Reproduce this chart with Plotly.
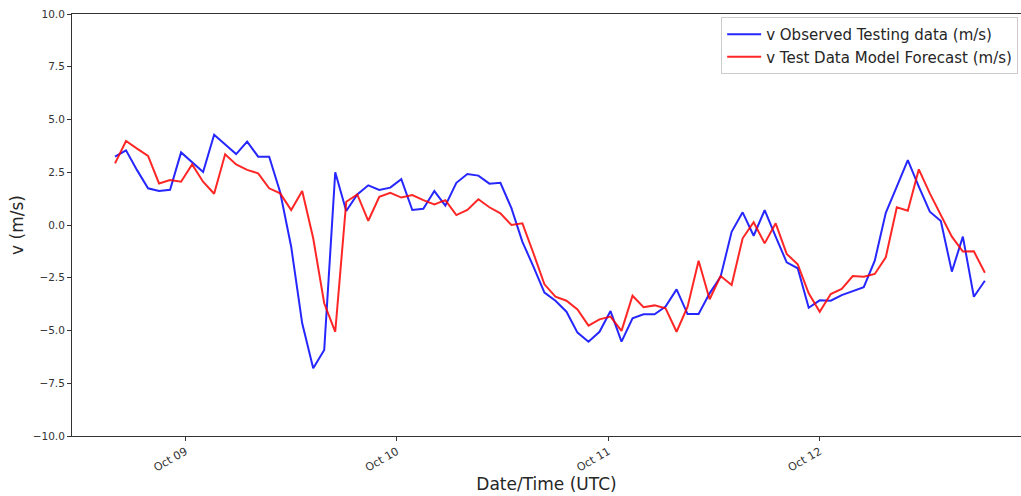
import pandas as pd
import plotly.graph_objects as go

# Timestamps: 80 samples, 75-minute spacing
times = pd.date_range("2023-10-08 16:00", periods=80, freq="75min")

observed = [
    3.24, 3.54, 2.60, 1.74, 1.61, 1.67, 3.44, 2.97, 2.51, 4.28,
    3.82, 3.36, 3.95, 3.24, 3.24, 1.55, -1.03, -4.66, -6.79, -5.92,
    2.50, 0.66, 1.45, 1.88, 1.66, 1.77, 2.17, 0.71, 0.77, 1.61,
    0.92, 2.00, 2.42, 2.34, 1.96, 2.00, 0.80, -0.80, -1.97, -3.20,
    -3.59, -4.11, -5.10, -5.53, -5.06, -4.08, -5.53, -4.42, -4.23, -4.23,
    -3.87, -3.05, -4.22, -4.22, -3.24, -2.45, -0.32, 0.60, -0.51, 0.70,
    -0.55, -1.77, -2.05, -3.92, -3.57, -3.59, -3.32, -3.13, -2.95, -1.69,
    0.58, 1.82, 3.08, 1.82, 0.63, 0.19, -2.21, -0.55, -3.40, -2.64,
]

forecast = [
    2.92, 3.98, 3.62, 3.28, 1.97, 2.13, 2.05, 2.87, 2.05, 1.48,
    3.35, 2.87, 2.61, 2.45, 1.74, 1.50, 0.71, 1.61, -0.63, -3.71,
    -5.06, 1.10, 1.45, 0.20, 1.34, 1.53, 1.30, 1.42, 1.18, 0.98,
    1.18, 0.47, 0.71, 1.22, 0.84, 0.55, 0.00, 0.08, -1.34, -2.81,
    -3.40, -3.59, -4.00, -4.77, -4.47, -4.34, -5.02, -3.35, -3.90, -3.81,
    -3.95, -5.06, -3.87, -1.69, -3.52, -2.42, -2.84, -0.63, 0.13, -0.87,
    0.08, -1.37, -1.86, -3.24, -4.11, -3.27, -3.03, -2.42, -2.45, -2.32,
    -1.53, 0.84, 0.68, 2.64, 1.50, 0.47, -0.55, -1.26, -1.25, -2.26,
]

tick_dates = ["2023-10-09", "2023-10-10", "2023-10-11", "2023-10-12"]
tick_labels = ["Oct 09", "Oct 10", "Oct 11", "Oct 12"]
y_ticks = [-10, -7.5, -5, -2.5, 0, 2.5, 5, 7.5, 10]

fig = go.Figure()
fig.add_trace(go.Scatter(
    x=times, y=observed, mode="lines",
    name="v Observed Testing data (m/s)",
    line=dict(color="rgba(0,0,255,0.85)", width=2),
))
fig.add_trace(go.Scatter(
    x=times, y=forecast, mode="lines",
    name="v Test Data Model Forecast (m/s)",
    line=dict(color="rgba(255,0,0,0.85)", width=2),
))

font_family = "DejaVu Sans"
fig.update_layout(
    width=1021, height=496,
    margin=dict(l=72, r=0, t=14, b=60),
    paper_bgcolor="white", plot_bgcolor="white",
    font=dict(family=font_family, color="#262626"),
    showlegend=True,
    legend=dict(
        x=0.997, y=0.993, xanchor="right", yanchor="top",
        bgcolor="rgba(255,255,255,0.8)", bordercolor="#cccccc", borderwidth=1,
        font=dict(size=15, family=font_family, color="#262626"),
        tracegroupgap=0, itemwidth=34,
    ),
    xaxis=dict(
        range=["2023-10-08 11:07", "2023-10-12 22:51"],
        tickvals=tick_dates, ticktext=tick_labels,
        tickangle=-30, tickfont=dict(size=11, color="#333333"),
        ticks="outside", ticklen=4, tickcolor="#333333",
        showline=True, linecolor="#333333", linewidth=1, mirror=True,
        showgrid=False, zeroline=False,
        title=dict(text="Date/Time (UTC)", font=dict(size=17, color="#262626"), standoff=4),
    ),
    yaxis=dict(
        range=[-10, 10],
        tickvals=y_ticks, tickformat=".1f",
        tickfont=dict(size=10.5, color="#333333"),
        ticks="outside", ticklen=4, tickcolor="#333333",
        showline=True, linecolor="#333333", linewidth=1, mirror=False,
        showgrid=False, zeroline=False,
        title=dict(text="v (m/s)", font=dict(size=17, color="#262626"), standoff=4),
    ),
)

fig.write_html(
    "out.html",
    config={"displayModeBar": False},
    post_script="document.body.style.margin='0';document.body.style.overflow='hidden';",
)
